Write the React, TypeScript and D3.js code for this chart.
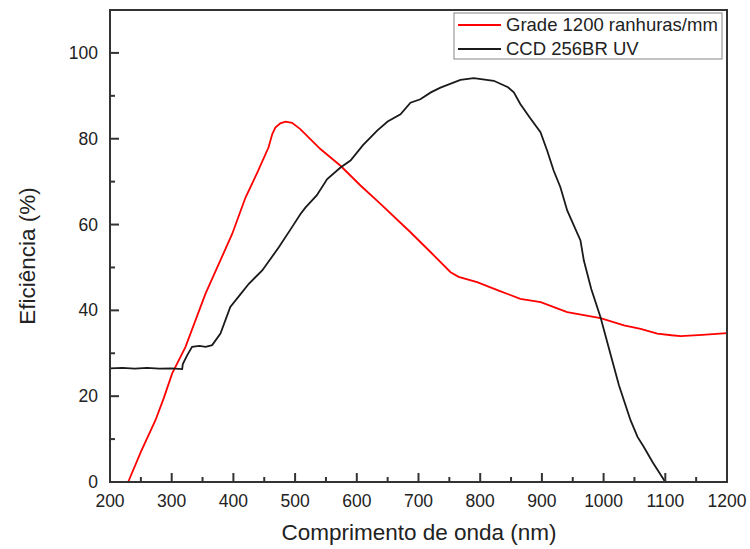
import React from 'react';
import * as d3 from 'd3';

// canvas
const width = 750;
const height = 549;
const margin = { top: 10, right: 23, bottom: 67, left: 110 };
const innerW = width - margin.left - margin.right;
const innerH = height - margin.top - margin.bottom;

// Grade 1200 ranhuras/mm
const gradeWl = [229.5, 250, 273.7, 287, 300.8, 322.4, 354.8, 398, 419.6, 440, 457, 463, 468, 476, 484.5, 495, 508, 541, 573.6, 606, 638.4, 687, 719.4, 752, 765, 795, 830, 865, 898, 941, 995, 1033, 1060, 1087, 1110, 1125, 1160, 1200];
const gradeEff = [0, 7, 14.4, 19.5, 25.3, 31.5, 43.9, 57.8, 66.3, 72.5, 78, 81.1, 82.6, 83.6, 84.0, 83.7, 82.3, 77.6, 73.7, 69.1, 64.8, 58.2, 53.6, 48.9, 47.8, 46.6, 44.6, 42.7, 41.9, 39.6, 38.2, 36.5, 35.7, 34.6, 34.2, 34.0, 34.3, 34.7];

// CCD 256BR UV
const ccdWl = [200, 220, 240, 260, 280, 300, 317, 318, 325, 333, 345, 355, 365.6, 379, 395, 410, 425, 446.7, 473.6, 495, 509, 517, 535, 552, 573.6, 589.8, 610, 633, 650, 670.8, 687, 703, 720, 735.6, 768, 789.6, 822, 845, 854.5, 865, 880, 897.7, 908.6, 919, 930, 941, 962.5, 968, 980, 995, 1011, 1025, 1043.6, 1055, 1065, 1080, 1100];
const ccdEff = [26.5, 26.6, 26.4, 26.6, 26.4, 26.5, 26.3, 27.5, 29.5, 31.5, 31.7, 31.5, 31.9, 34.6, 40.8, 43.5, 46.2, 49.3, 54.7, 59.4, 62.5, 64.0, 66.8, 70.6, 73.3, 74.9, 78.5, 81.9, 84, 85.7, 88.4, 89.2, 90.8, 91.9, 93.7, 94.1, 93.5, 92, 90.8, 88.1, 85, 81.5, 77.2, 72.6, 68.7, 63.3, 56.3, 51.6, 45, 38.4, 29.9, 22.5, 14.4, 10.5, 8.2, 4.5, 0];

// ticks
const xTicks = [200, 300, 400, 500, 600, 700, 800, 900, 1000, 1100, 1200];
const yTicks = [0, 20, 40, 60, 80, 100];

const seriesNames = ['Grade 1200 ranhuras/mm', 'CCD 256BR UV'];
const seriesColors = ['#ff0000', '#1a1a1a'];

const font = '"Liberation Sans", Arial, sans-serif';
const axisColor = '#333';

const x = d3.scaleLinear().domain([200, 1200]).range([0, innerW]);
const y = d3.scaleLinear().domain([0, 110]).range([innerH, 0]);

const line = d3
  .line<[number, number]>()
  .x((d) => x(d[0]))
  .y((d) => y(d[1]));

const gradePath = line(gradeWl.map((w, i) => [w, gradeEff[i]]));
const ccdPath = line(ccdWl.map((w, i) => [w, ccdEff[i]]));

const xMinor = d3.range(250, 1200, 100);
const yMinor = d3.range(10, 110, 20);

const App = () => (
  <svg
    width={width}
    height={height}
    style={{ position: 'absolute', left: 0, top: 0, background: '#fff' }}
    fontFamily={font}
  >
    <g transform={`translate(${margin.left},${margin.top})`}>
      {/* curves */}
      <path d={gradePath!} fill="none" stroke={seriesColors[0]} strokeWidth={1.8} />
      <path d={ccdPath!} fill="none" stroke={seriesColors[1]} strokeWidth={1.8} />

      {/* frame */}
      <rect x={0} y={0} width={innerW} height={innerH} fill="none" stroke={axisColor} strokeWidth={2} />

      {/* x ticks */}
      {xTicks.map((t) => (
        <g key={`x${t}`} transform={`translate(${x(t)},${innerH})`}>
          <line y1={0} y2={-9} stroke={axisColor} strokeWidth={2} />
          <text y={25} textAnchor="middle" fontSize={17.5} fill="#222">
            {t}
          </text>
        </g>
      ))}
      {xMinor.map((t) => (
        <line key={`xm${t}`} x1={x(t)} x2={x(t)} y1={innerH} y2={innerH - 5} stroke={axisColor} strokeWidth={2} />
      ))}

      {/* y ticks */}
      {yTicks.map((t) => (
        <g key={`y${t}`} transform={`translate(0,${y(t)})`}>
          <line x1={0} x2={9} stroke={axisColor} strokeWidth={2} />
          <text x={-12} dy="0.35em" textAnchor="end" fontSize={17.5} fill="#222">
            {t}
          </text>
        </g>
      ))}
      {yMinor.map((t) => (
        <line key={`ym${t}`} x1={0} x2={5} y1={y(t)} y2={y(t)} stroke={axisColor} strokeWidth={2} />
      ))}
    </g>

    {/* axis titles */}
    <text x={419} y={540} textAnchor="middle" fontSize={22.5} fill="#222">
      Comprimento de onda (nm)
    </text>
    <text
      transform={`translate(35,256) rotate(-90)`}
      textAnchor="middle"
      fontSize={22.5}
      fill="#222"
    >
      Eficiência (%)
    </text>

    {/* legend */}
    <g>
      <rect x={454} y={13} width={268} height={46} fill="#fff" stroke="#999" strokeWidth={1.2} />
      {seriesNames.map((name, i) => (
        <g key={name} transform={`translate(0,${25 + i * 24})`}>
          <line x1={458} x2={501} stroke={seriesColors[i]} strokeWidth={1.8} />
          <text x={506} dy="0.35em" fontSize={18.5} fill="#222">
            {name}
          </text>
        </g>
      ))}
    </g>
  </svg>
);

export default App;
